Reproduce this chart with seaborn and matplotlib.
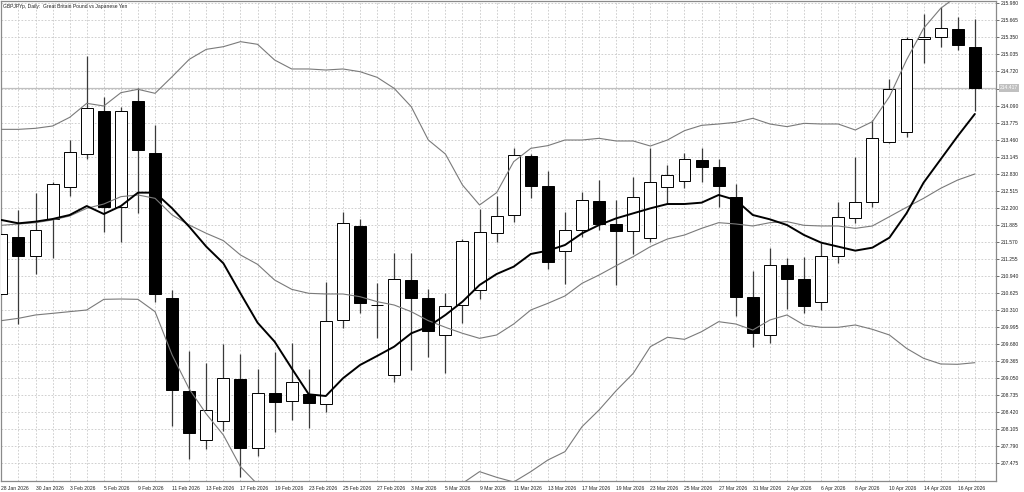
import pandas as pd
import numpy as np
import matplotlib
matplotlib.use('Agg')
import matplotlib.pyplot as plt
import seaborn as sns

# GBPJPY daily candles, 28 Jan 2026 - 17 Apr 2026
dates = ['28 Jan', '29 Jan', '30 Jan', '2 Feb', '3 Feb', '4 Feb', '5 Feb', '6 Feb',
         '9 Feb', '10 Feb', '11 Feb', '12 Feb', '13 Feb', '16 Feb', '17 Feb', '18 Feb',
         '19 Feb', '20 Feb', '23 Feb', '24 Feb', '25 Feb', '26 Feb', '27 Feb', '2 Mar',
         '3 Mar', '4 Mar', '5 Mar', '6 Mar', '9 Mar', '10 Mar', '11 Mar', '12 Mar',
         '13 Mar', '16 Mar', '17 Mar', '18 Mar', '19 Mar', '20 Mar', '23 Mar', '24 Mar',
         '25 Mar', '26 Mar', '27 Mar', '30 Mar', '31 Mar', '1 Apr', '2 Apr', '3 Apr',
         '6 Apr', '7 Apr', '8 Apr', '9 Apr', '10 Apr', '13 Apr', '14 Apr', '15 Apr',
         '16 Apr', '17 Apr']

opens = [210.607, 211.660, 211.309, 211.987, 212.578, 213.188, 213.995, 212.209,
         214.180, 213.219, 210.539, 208.820, 207.908, 208.259, 209.042, 207.754,
         208.771, 208.635, 208.752, 208.573, 210.126, 211.864, 210.410, 209.109,
         210.865, 210.527, 209.849, 210.403, 210.681, 211.728, 212.061, 213.164,
         212.603, 211.408, 211.790, 212.332, 211.894, 211.771, 211.636, 212.578,
         212.695, 213.090, 212.960, 212.406, 210.557, 209.849, 211.143, 210.878,
         210.453, 211.309, 212.005, 212.301, 213.410, 213.595, 215.314, 215.351,
         215.505, 215.178]
highs = [211.728, 212.159, 212.467, 212.683, 213.453, 215.006, 214.242, 214.057,
         214.408, 213.731, 210.681, 209.559, 209.337, 209.682, 209.498, 209.214,
         209.541, 209.695, 209.214, 210.835, 212.122, 211.987, 210.816, 211.371,
         211.358, 210.693, 210.619, 211.617, 212.172, 212.418, 213.299, 213.194,
         212.880, 212.122, 212.486, 212.714, 212.344, 212.763, 213.299, 212.991,
         213.219, 213.299, 213.096, 212.640, 211.038, 211.451, 211.278, 211.297,
         211.556, 212.313, 213.145, 213.823, 214.581, 215.351, 215.782, 215.905,
         215.721, 215.684]
lows = [210.588, 210.052, 210.976, 211.266, 212.418, 213.096, 211.759, 211.574,
        212.098, 210.465, 208.167, 207.551, 207.735, 208.081, 207.224, 207.612,
        208.062, 208.278, 208.124, 208.432, 209.972, 210.249, 209.787, 208.986,
        209.202, 209.448, 209.153, 210.077, 210.508, 211.562, 211.944, 212.387,
        211.063, 210.785, 211.654, 211.790, 210.773, 211.346, 211.574, 212.270,
        212.560, 212.683, 212.209, 210.200, 209.633, 209.707, 210.323, 210.262,
        210.311, 211.174, 211.925, 212.221, 213.400, 213.503, 214.883, 215.178,
        215.117, 213.995]
closes = [211.710, 211.309, 211.796, 212.634, 213.225, 214.039, 212.209, 213.989,
          213.268, 210.607, 208.832, 208.031, 208.463, 209.060, 207.754, 208.771,
          208.617, 208.980, 208.598, 210.114, 211.913, 210.434, 210.398, 210.878,
          210.527, 209.929, 210.391, 211.593, 211.759, 212.048, 213.170, 212.603,
          211.192, 211.790, 212.338, 211.894, 211.777, 212.393, 212.683, 212.806,
          213.102, 212.948, 212.603, 210.545, 209.880, 211.143, 210.878, 210.385,
          211.309, 212.024, 212.313, 213.484, 214.390, 215.314, 215.351, 215.517,
          215.209, 214.417]

# moving average (thick black) and bollinger bands (thin grey)
ma_fast = [211.975, 211.913, 211.944, 211.993, 212.067, 212.233, 212.085, 212.233,
           212.480, 212.480, 212.190, 211.851, 211.482, 211.174, 210.619, 210.077,
           209.726, 209.233, 208.752, 208.721, 209.048, 209.294, 209.461, 209.633,
           209.880, 210.003, 210.219, 210.465, 210.773, 210.976, 211.112, 211.346,
           211.408, 211.512, 211.728, 211.882, 212.005, 212.098, 212.190, 212.270,
           212.270, 212.295, 212.437, 212.344, 212.067, 211.987, 211.882, 211.697,
           211.556, 211.482, 211.408, 211.463, 211.648, 212.098, 212.665, 213.096,
           213.527, 213.934]
bb_mid = [211.876, 211.901, 211.925, 211.975, 212.048, 212.190, 212.270, 212.406,
          212.437, 212.375, 212.067, 211.882, 211.728, 211.593, 211.328, 211.155,
          210.865, 210.693, 210.619, 210.607, 210.607, 210.557, 210.465, 210.403,
          210.280, 210.114, 209.991, 209.880, 209.787, 209.849, 210.052, 210.311,
          210.434, 210.570, 210.804, 210.958, 211.130, 211.297, 211.482, 211.623,
          211.697, 211.820, 211.925, 211.901, 211.864, 211.925, 211.944, 211.876,
          211.864, 211.864, 211.820, 211.864, 212.036, 212.209, 212.375, 212.560,
          212.714, 212.825]
bb_upper = [213.650, 213.650, 213.669, 213.712, 213.872, 214.131, 214.082, 214.328,
            214.390, 214.316, 214.624, 214.944, 215.129, 215.178, 215.271, 215.222,
            214.932, 214.766, 214.766, 214.747, 214.766, 214.716, 214.612, 214.408,
            214.069, 213.453, 213.194, 212.621, 212.252, 212.480, 213.053, 213.299,
            213.349, 213.453, 213.453, 213.484, 213.435, 213.435, 213.342, 213.453,
            213.626, 213.724, 213.749, 213.780, 213.854, 213.749, 213.700, 213.761,
            213.749, 213.749, 213.638, 213.792, 214.254, 214.932, 215.517, 215.887,
            216.120, 216.310]
bb_lower = [210.114, 210.157, 210.219, 210.249, 210.280, 210.311, 210.508, 210.514,
            210.508, 210.280, 209.479, 208.851, 208.389, 208.000, 207.415, 207.088,
            206.799, 206.620, 206.472, 206.466, 206.448, 206.398, 206.318, 206.398,
            206.491, 206.774, 206.787, 207.107, 207.323, 207.218, 207.132, 207.323,
            207.538, 207.692, 208.154, 208.463, 208.820, 209.140, 209.633, 209.806,
            209.769, 209.910, 210.095, 210.052, 209.941, 210.126, 210.219, 210.034,
            209.991, 209.991, 210.034, 209.954, 209.849, 209.602, 209.418, 209.313,
            209.307, 209.337]

price_ticks = [215.980, 215.665, 215.350, 215.035, 214.720, 214.405, 214.090, 213.775,
               213.460, 213.145, 212.830, 212.515, 212.200, 211.885, 211.570, 211.255,
               210.940, 210.625, 210.310, 209.995, 209.680, 209.365, 209.050, 208.735,
               208.420, 208.105, 207.790, 207.475]
last_price = 214.417
title = 'GBPJPYp, Daily:  Great Britain Pound vs Japanese Yen'

df = pd.DataFrame({'date': dates, 'open': opens, 'high': highs, 'low': lows,
                   'close': closes, 'ma': ma_fast, 'mid': bb_mid,
                   'upper': bb_upper, 'lower': bb_lower})
df['idx'] = np.arange(len(df))

sns.set_style('white')
plt.rcParams['font.family'] = ['Liberation Sans', 'DejaVu Sans']

fig = plt.figure(figsize=(10.24, 4.92), dpi=100)
ax = fig.add_axes([0.5 / 1024, 11 / 492, 995.5 / 1024, 480 / 492])

# grid
grid_kw = dict(color='#c8c8c8', linestyle=(0, (2, 2)), linewidth=0.6, zorder=0)
for i in df['idx']:
    ax.axvline(i, **grid_kw)
for p in price_ticks:
    ax.axhline(p, **grid_kw)
ax.axhline(last_price, color='#c0c0c0', linewidth=0.9, zorder=1)

# candles
up = df['close'] >= df['open']
ax.vlines(df['idx'], df['low'], df['high'], color='#3a3a3a', linewidth=0.9, zorder=2)
body_lo = np.minimum(df['open'], df['close'])
body_h = np.maximum(np.abs(df['close'] - df['open']), 0.004)
ax.bar(df['idx'], body_h, bottom=body_lo, width=0.70,
       color=np.where(up, 'white', 'black'), edgecolor='black', linewidth=0.7, zorder=3)

# indicators
for col in ['upper', 'mid', 'lower']:
    sns.lineplot(data=df, x='idx', y=col, ax=ax, color='#7a7a7a', linewidth=0.8, zorder=4)
sns.lineplot(data=df, x='idx', y='ma', ax=ax, color='black', linewidth=1.4, zorder=5)

ax.set_xlim(-0.05, 58.24)
ax.set_ylim(207.150, 216.0225)

# axes / ticks in MT4 style
ax.yaxis.tick_right()
ax.set_yticks(price_ticks)
ax.set_yticklabels(['' if abs(p - 214.405) < 1e-6 else f'{p:.3f}' for p in price_ticks])
xt = df['idx'][::2]
ax.set_xticks(xt)
ax.set_xticklabels([d + ' 2026' for d in df['date'][::2]])
for lab in ax.get_xticklabels():
    lab.set_horizontalalignment('left')
ax.tick_params(axis='both', labelsize=3.6, colors='#555555', length=2.2, width=0.6,
               pad=1.2, labelcolor='#222222')
ax.set_xlabel('')
ax.set_ylabel('')
for s in ax.spines.values():
    s.set_color('#8a8a8a')
    s.set_linewidth(0.9)

ax.text(1.004, last_price, f'{last_price:.3f}', transform=ax.get_yaxis_transform(),
        fontsize=3.6, color='white', va='center', ha='left',
        bbox=dict(boxstyle='square,pad=0.25', facecolor='#c0c0c0', edgecolor='none'))
ax.text(0.003, 0.993, title, transform=ax.transAxes, fontsize=3.6, color='#222222',
        va='top', ha='left')

fig.savefig('out.png', dpi=100)
